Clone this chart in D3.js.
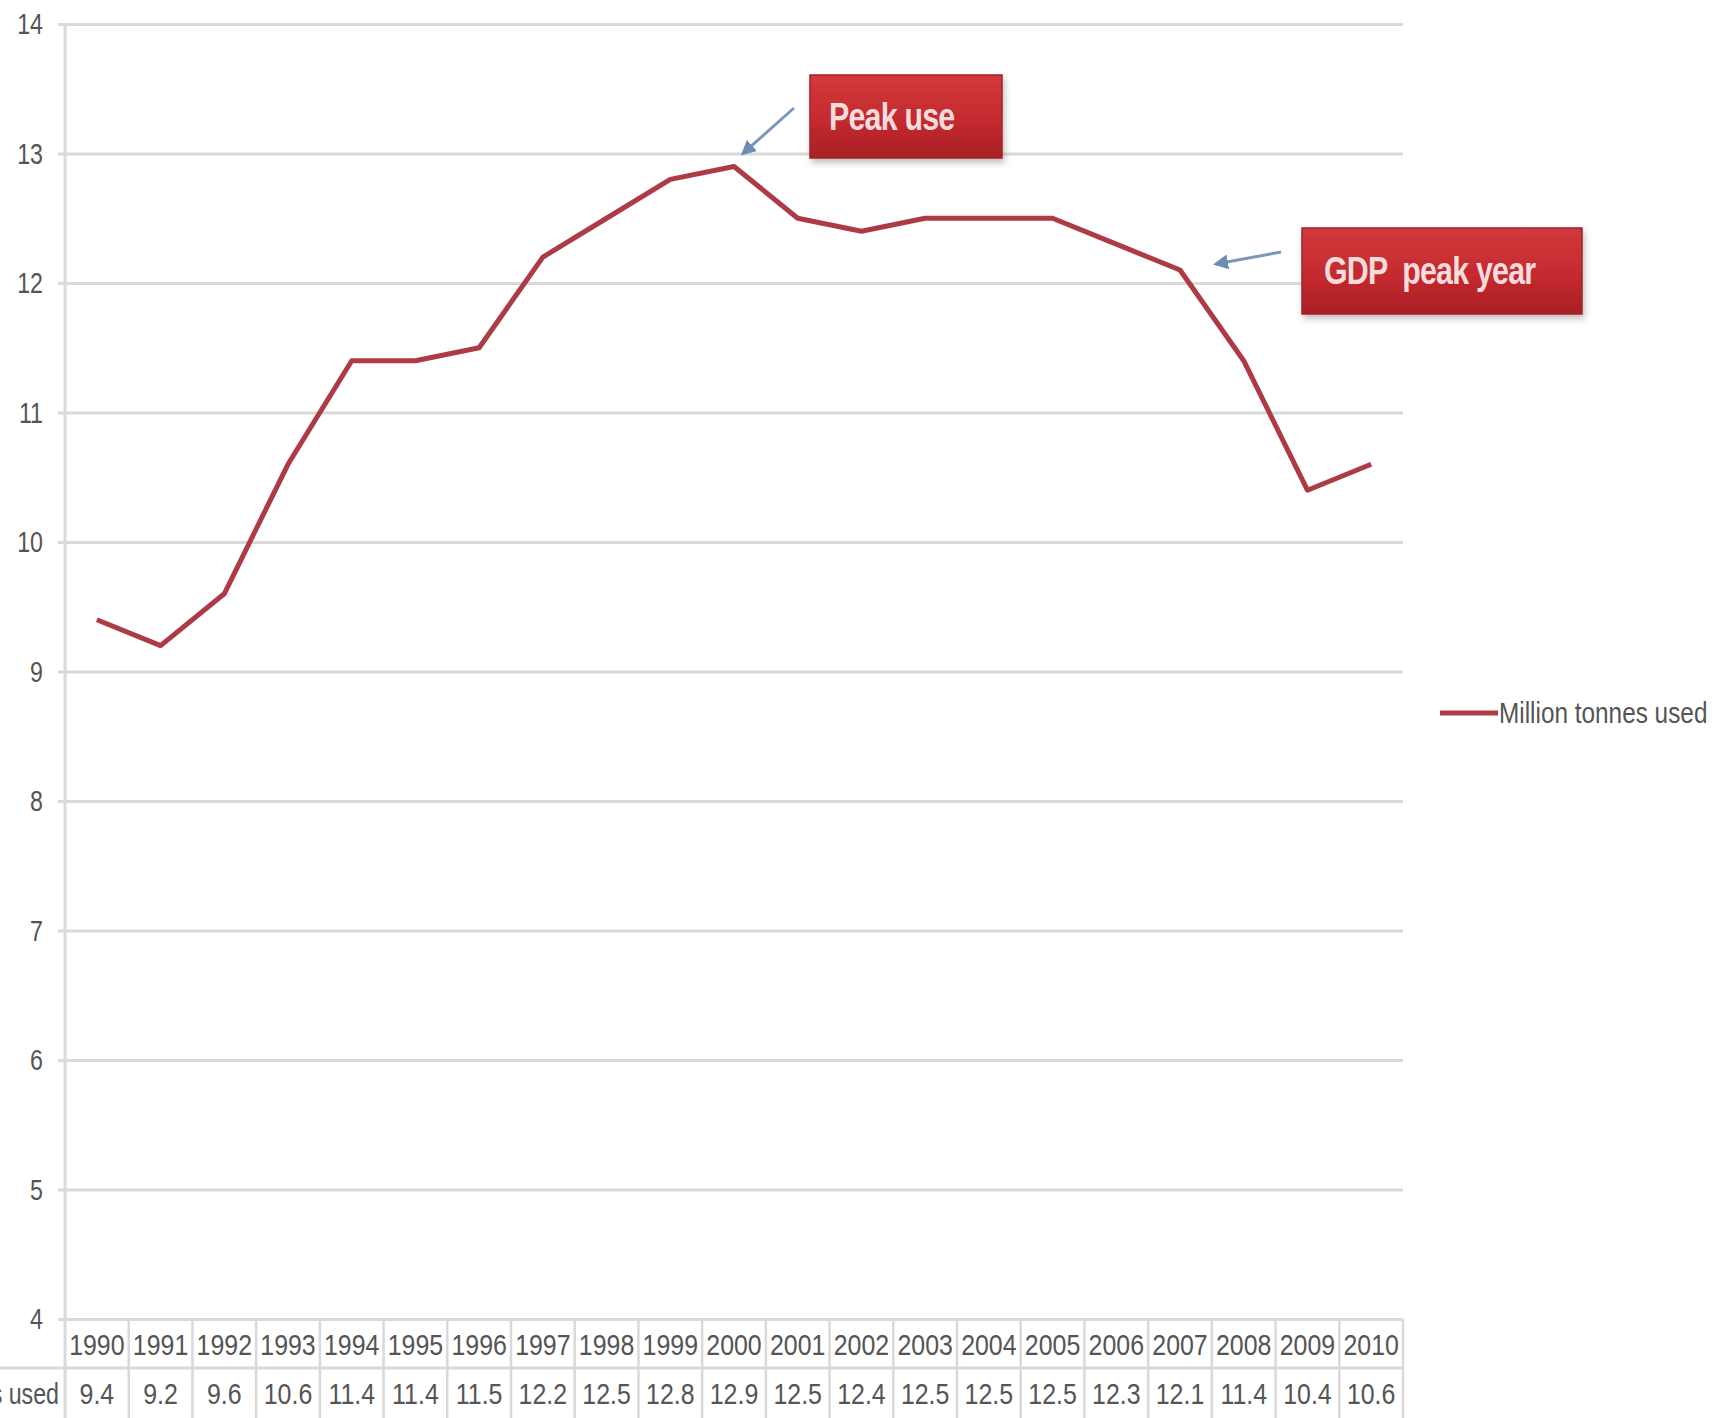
<!DOCTYPE html>
<html>
<head>
<meta charset="utf-8">
<script src="https://cdn.jsdelivr.net/npm/d3@7"></script>
<style>
  html, body { margin: 0; padding: 0; background: #fff; overflow: hidden; }
  svg { display: block; }
  text { font-family: "Liberation Sans", Arial, sans-serif; }
</style>
</head>
<body>
<svg id="chart" width="1715" height="1418"></svg>
<script>
// Annual consumption, million tonnes
const years = ["1990","1991","1992","1993","1994","1995","1996","1997","1998","1999","2000",
               "2001","2002","2003","2004","2005","2006","2007","2008","2009","2010"];
const tonnes = [9.4, 9.2, 9.6, 10.6, 11.4, 11.4, 11.5, 12.2, 12.5, 12.8, 12.9,
                12.5, 12.4, 12.5, 12.5, 12.5, 12.3, 12.1, 11.4, 10.4, 10.6];
const yTicks = [4, 5, 6, 7, 8, 9, 10, 11, 12, 13, 14];
const seriesName = "Million tonnes used";
const callouts = [
  { year: "2000", label: "Peak use" },
  { year: "2007", label: "GDP  peak year" }
];

(function draw() {
  const svg = d3.select("#chart");
  const plotL = 65, plotR = 1403, plotT = 24, plotB = 1319;
  const gridColor = "#d9d9d9", lineColor = "#ad3a44", textColor = "#555";

  const x = d3.scaleBand().domain(years).range([plotL, plotR]).padding(0);
  const y = d3.scaleLinear().domain([4, 14]).range([plotB, plotT]);
  const cx = d => x(d) + x.bandwidth() / 2;

  // condensed text helper
  function label(parent, px, py, txt, size, anchor, fill, squeeze) {
    return parent.append("text")
      .attr("transform", `translate(${px},${py}) scale(${squeeze || 0.8},1)`)
      .attr("text-anchor", anchor || "start")
      .attr("font-size", size)
      .attr("fill", fill || textColor)
      .style("white-space", "pre")
      .text(txt);
  }

  // drop shadow, box gradient and arrow head for the callouts
  const defs = svg.append("defs");
  const f = defs.append("filter").attr("id", "shadow").attr("x", "-10%").attr("y", "-10%")
    .attr("width", "130%").attr("height", "140%");
  f.append("feDropShadow").attr("dx", 2).attr("dy", 4).attr("stdDeviation", 3)
    .attr("flood-color", "#000").attr("flood-opacity", 0.25);
  const g = defs.append("linearGradient").attr("id", "boxfill").attr("x1", 0).attr("y1", 0).attr("x2", 0).attr("y2", 1);
  g.append("stop").attr("offset", "0%").attr("stop-color", "#d23a3c");
  g.append("stop").attr("offset", "55%").attr("stop-color", "#c42a2f");
  g.append("stop").attr("offset", "100%").attr("stop-color", "#a91f26");
  const mk = defs.append("marker").attr("id", "arrow").attr("viewBox", "0 0 10 10")
    .attr("refX", 8).attr("refY", 5).attr("markerWidth", 5).attr("markerHeight", 5)
    .attr("orient", "auto-start-reverse");
  mk.append("path").attr("d", "M0,0 L10,5 L0,10 z").attr("fill", "#6f8db3");

  // horizontal gridlines from the y axis
  const yAxis = d3.axisLeft(y).tickValues(yTicks).tickSize(0).tickFormat("");
  const ga = svg.append("g").attr("transform", `translate(${plotL - 7},0)`).call(yAxis);
  ga.select(".domain").remove();
  ga.selectAll(".tick line").attr("stroke", gridColor).attr("stroke-width", 3)
    .attr("x1", 0).attr("x2", plotR - plotL + 7);
  yTicks.forEach(v => label(svg, 43, y(v) + 10, String(v), 29, "end"));
  svg.append("line").attr("x1", plotL).attr("x2", plotL).attr("y1", plotT).attr("y2", 1418)
    .attr("stroke", gridColor).attr("stroke-width", 3);

  // data table under the plot
  const rowMid = 1368, tableBottom = 1418;
  const tbl = svg.append("g");
  tbl.append("line").attr("x1", 0).attr("x2", plotR).attr("y1", rowMid).attr("y2", rowMid)
    .attr("stroke", gridColor).attr("stroke-width", 3);
  tbl.selectAll("line.col").data(years).join("line").attr("class", "col")
    .attr("x1", d => x(d) + x.bandwidth()).attr("x2", d => x(d) + x.bandwidth())
    .attr("y1", plotB).attr("y2", tableBottom)
    .attr("stroke", gridColor).attr("stroke-width", 2.5);
  years.forEach(yr => label(tbl, cx(yr), 1355, yr, 29, "middle", textColor, 0.86));
  tonnes.forEach((v, i) => label(tbl, cx(years[i]), 1404, String(v), 29, "middle", textColor, 0.86));
  label(tbl, 59, 1404, seriesName, 29, "end");

  // series line
  const line = d3.line().x((d, i) => cx(years[i])).y(d => y(d));
  svg.append("path").datum(tonnes).attr("d", line).attr("fill", "none")
    .attr("stroke", lineColor).attr("stroke-width", 5).attr("stroke-linejoin", "round");

  // legend
  const lg = svg.append("g");
  lg.append("line").attr("x1", 1440).attr("x2", 1498).attr("y1", 713).attr("y2", 713)
    .attr("stroke", lineColor).attr("stroke-width", 5);
  label(lg, 1499, 723, seriesName, 29, "start", textColor, 0.84);

  // callouts: box + arrow pointing at the data point
  const boxes = [
    { x: 810, y: 75, w: 192, h: 83, tx: 829, ty: 130, from: [794, 108], toOff: [9, -13] },
    { x: 1302, y: 228, w: 280, h: 86, tx: 1324, ty: 284, from: [1281, 252], toOff: [36, -6] }
  ];
  callouts.forEach((c, i) => {
    const b = boxes[i];
    const px = cx(c.year), py = y(tonnes[years.indexOf(c.year)]);
    svg.append("line").attr("x1", b.from[0]).attr("y1", b.from[1])
      .attr("x2", px + b.toOff[0]).attr("y2", py + b.toOff[1])
      .attr("stroke", "#7d97b8").attr("stroke-width", 3).attr("marker-end", "url(#arrow)");
    svg.append("rect").attr("x", b.x).attr("y", b.y).attr("width", b.w).attr("height", b.h)
      .attr("fill", "url(#boxfill)").attr("stroke", "#9e2329").attr("stroke-width", 1.5)
      .attr("filter", "url(#shadow)");
    label(svg, b.tx, b.ty, c.label, 38, "start", "#f6dcdc", 0.8)
      .attr("font-weight", "bold").attr("letter-spacing", -1);
  });
})();
</script>
</body>
</html>
